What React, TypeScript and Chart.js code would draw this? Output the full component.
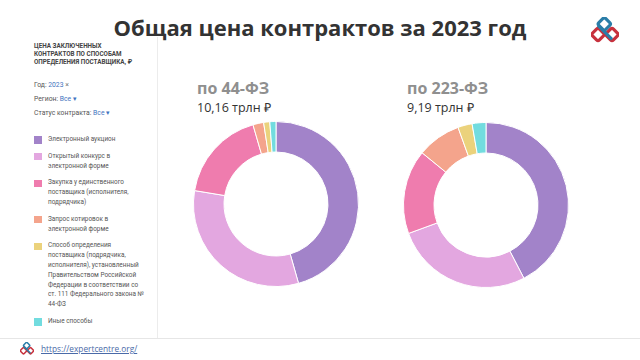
import React, { useEffect, useRef } from "react";
import { Chart, registerables } from "chart.js";

Chart.register(...registerables);

// ---- data ----
const methodLabels = [
  "Электронный аукцион",
  "Открытый конкурс в\nэлектронной форме",
  "Закупка у единственного\nпоставщика (исполнителя,\nподрядчика)",
  "Запрос котировок в\nэлектронной форме",
  "Способ определения\nпоставщика (подрядчика,\nисполнителя), установленный\nПравительством Российской\nФедерации в соответствии со\nст. 111 Федерального закона №\n44-ФЗ",
  "Иные способы",
];
const methodColors = ["#a283c9", "#e3a7e0", "#ef7cae", "#f4a48c", "#ebd27c", "#72dcdf"];
const shares44 = [45.6, 32.0, 17.9, 2.1, 1.2, 1.2];
const shares223 = [42.4, 27.0, 16.5, 8.6, 2.8, 2.7];
const chartTitles = ["по 44-ФЗ", "по 223-ФЗ"];
const chartTotals = ["10,16 трлн ₽", "9,19 трлн ₽"];
const pageTitle = "Общая цена контрактов за 2023 год";
const panelTitle = ["ЦЕНА ЗАКЛЮЧЕННЫХ", "КОНТРАКТОВ ПО СПОСОБАМ", "ОПРЕДЕЛЕНИЯ ПОСТАВЩИКА, ₽"];
const filterLabels = ["Год:", "Регион:", "Статус контракта:"];
const filterValues = ["2023", "Все", "Все"];
const filterMarks = ["×", "▾", "▾"];
const linkText = "https://expertcentre.org/";

function Donut(props: { values: number[]; left: number; top: number; size: number }) {
  const ref = useRef<HTMLCanvasElement | null>(null);
  useEffect(() => {
    if (!ref.current) return;
    const chart = new Chart(ref.current, {
      type: "doughnut",
      data: {
        labels: methodLabels.map((l) => l.replace(/\n/g, " ")),
        datasets: [
          {
            data: props.values,
            backgroundColor: methodColors,
            borderColor: "#ffffff",
            borderWidth: 1,
          },
        ],
      },
      options: {
        responsive: false,
        animation: false,
        cutout: "63%",
        layout: { padding: 0 },
        plugins: { legend: { display: false }, tooltip: { enabled: false }, title: { display: false } },
      },
    });
    return () => chart.destroy();
  }, []);
  return (
    <canvas
      ref={ref}
      width={props.size}
      height={props.size}
      style={{ position: "absolute", left: props.left, top: props.top, width: props.size, height: props.size }}
    />
  );
}

function Logo(props: { cx: number; cy: number; s: number }) {
  const s = props.s;
  return (
    <svg
      width={s}
      height={s}
      viewBox="0 0 40 40"
      style={{ position: "absolute", left: props.cx - s / 2, top: props.cy - s / 2 }}
    >
      <g fill="none" strokeWidth="4.5" strokeLinejoin="round">
        <rect x="12" y="3" width="14" height="14" rx="3" transform="rotate(45 19 10)" stroke="#2a7da8" />
        <rect x="3" y="18" width="14" height="14" rx="3" transform="rotate(45 10 25)" stroke="#c7313d" />
        <rect x="23" y="18" width="14" height="14" rx="3" transform="rotate(45 30 25)" stroke="#c7313d" />
        <path d="M10 12 L30 32" stroke="#2a7da8" />
      </g>
    </svg>
  );
}

export default function App() {
  const small: React.CSSProperties = {
    position: "absolute",
    fontFamily: "Roboto, 'Noto Sans', sans-serif",
    fontSize: 6.6,
    color: "#555",
    whiteSpace: "pre",
  };
  return (
    <div
      style={{
        position: "absolute",
        left: 0,
        top: 0,
        width: 640,
        height: 360,
        background: "#ffffff",
        overflow: "hidden",
      }}
    >
      {/* title */}
      <div
        style={{
          position: "absolute",
          left: 0,
          width: 640,
          top: 12,
          lineHeight: "30px",
          textAlign: "center",
          fontFamily: "'Open Sans', sans-serif",
          fontWeight: 700,
          fontSize: 22,
          color: "#333333",
        }}
      >
        {pageTitle}
      </div>
      <Logo cx={605} cy={31} s={28} />

      {/* left panel lines */}
      <div style={{ position: "absolute", left: 157, top: 37, width: 1, height: 301, background: "#ececec" }} />
      <div style={{ position: "absolute", left: 0, top: 338, width: 640, height: 1, background: "#e6e6e6" }} />

      {/* panel header */}
      <div style={{ ...small, left: 34, top: 41.5, lineHeight: "8.3px", fontWeight: 700, color: "#444", fontSize: 6.3 }}>
        {panelTitle.join("\n")}
      </div>
      {filterLabels.map((f, i) => (
        <div key={f} style={{ ...small, left: 34, top: [80, 94, 107.5][i], lineHeight: "10px", fontSize: 6.8 }}>
          {f + " "}
          <span style={{ color: "#3f73c0" }}>{filterValues[i]}</span>
          <span style={{ color: i === 0 ? "#777" : "#3f73c0" }}>{" " + filterMarks[i]}</span>
        </div>
      ))}

      {/* legend */}
      <div style={{ position: "absolute", left: 34, top: 135, display: "flex", flexDirection: "column" }}>
        {methodLabels.map((l, i) => (
          <div key={i} style={{ display: "flex", flexDirection: "row", alignItems: "flex-start", marginBottom: 7 }}>
            <div style={{ width: 7.5, height: 7.5, marginTop: 1.2, background: methodColors[i], flex: "none" }} />
            <div
              style={{
                marginLeft: 6.5,
                fontFamily: "Roboto, 'Noto Sans', sans-serif",
                fontSize: 6.4,
                lineHeight: "9.8px",
                color: "#555",
                whiteSpace: "pre",
              }}
            >
              {l}
            </div>
          </div>
        ))}
      </div>

      {/* chart headings */}
      {[197, 407].map((x, i) => (
        <React.Fragment key={i}>
          <div
            style={{
              position: "absolute",
              left: x,
              top: 78,
              lineHeight: "20px",
              fontFamily: "'Open Sans', sans-serif",
              fontWeight: 700,
              fontSize: 16,
              color: "#8f8f8f",
              whiteSpace: "pre",
            }}
          >
            {chartTitles[i]}
          </div>
          <div
            style={{
              position: "absolute",
              left: x,
              top: 99,
              lineHeight: "17px",
              fontFamily: "'Open Sans', sans-serif",
              fontWeight: 400,
              fontSize: 12.5,
              color: "#333",
              whiteSpace: "pre",
            }}
          >
            {chartTotals[i]}
          </div>
        </React.Fragment>
      ))}

      <Donut values={shares44} left={193} top={121} size={166} />
      <Donut values={shares223} left={403} top={122} size={166} />

      {/* footer */}
      <Logo cx={27} cy={349} s={14} />
      <div
        style={{
          position: "absolute",
          left: 41,
          top: 343,
          lineHeight: "12px",
          fontFamily: "'Open Sans', sans-serif",
          fontSize: 8.3,
          color: "#4a6aa8",
          textDecoration: "underline",
          whiteSpace: "pre",
        }}
      >
        {linkText}
      </div>
    </div>
  );
}
